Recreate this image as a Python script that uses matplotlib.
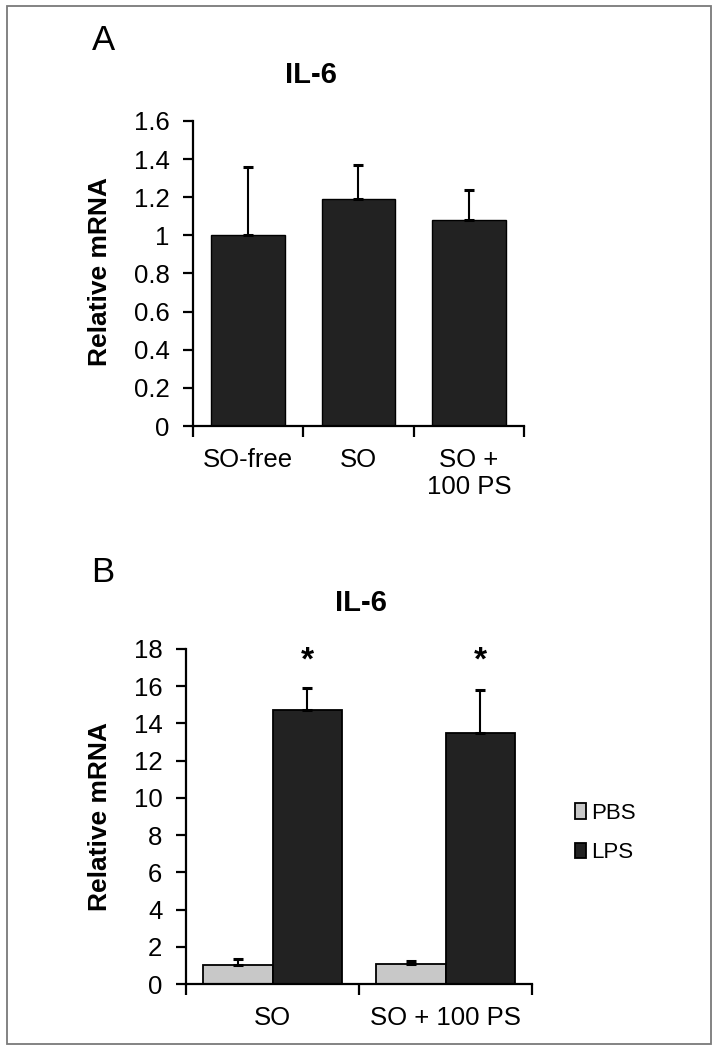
import matplotlib
matplotlib.use("Agg")
import matplotlib.pyplot as plt
import matplotlib.patches as mpatches
import numpy as np

plt.rcParams['font.family'] = ['Liberation Sans', 'DejaVu Sans']

# ---- Data ----
a_categories = ["SO-free", "SO", "SO +\n100 PS"]
a_values = [1.00, 1.19, 1.08]
a_err = [0.36, 0.18, 0.16]
a_yticks = [0, 0.2, 0.4, 0.6, 0.8, 1, 1.2, 1.4, 1.6]
a_yticklabels = ["0", "0.2", "0.4", "0.6", "0.8", "1", "1.2", "1.4", "1.6"]

b_categories = ["SO", "SO + 100 PS"]
b_series = ["PBS", "LPS"]
b_pbs = [1.00, 1.09]
b_pbs_err = [0.36, 0.16]
b_lps = [14.70, 13.48]
b_lps_err = [1.22, 2.34]
b_sig = ["*", "*"]
b_yticks = [0, 2, 4, 6, 8, 10, 12, 14, 16, 18]

dark = "#222222"
light = "#c8c8c8"

fig = plt.figure(figsize=(7.15, 10.5), dpi=100)

# border
fig.patches.append(mpatches.Rectangle((7/715, 6/1050), 704/715, 1038/1050,
                                      transform=fig.transFigure, fill=False,
                                      edgecolor="#7a7a7a", linewidth=1.3))

def style_axes(ax):
    for s in ["top", "right"]:
        ax.spines[s].set_visible(False)
    for s in ["left", "bottom"]:
        ax.spines[s].set_linewidth(1.6)
        ax.spines[s].set_color("black")
    ax.tick_params(axis="y", direction="out", length=7, width=1.6, pad=10,
                   labelsize=18.5)
    ax.tick_params(axis="x", which="major", direction="out", length=8, width=1.6,
                   labelbottom=False)
    ax.tick_params(axis="x", which="minor", length=0, pad=16, labelsize=18.5)

ekw = dict(ecolor="black", elinewidth=1.5, capsize=3.3, capthick=2.2)

# ---- Panel A ----
axA = fig.add_axes([193/715, 1-426/1050, 331/715, 305/1050])
xa = np.arange(len(a_categories))
axA.bar(xa, a_values, width=0.67, color=dark, edgecolor="black", linewidth=1.0,
        zorder=2)
axA.errorbar(xa, a_values, yerr=[np.zeros(len(a_err)), a_err], fmt="none",
             zorder=3, **ekw)
axA.set_xlim(-0.5, len(a_categories) - 0.5)
axA.set_ylim(0, 1.6)
axA.set_yticks(a_yticks)
axA.set_yticklabels(a_yticklabels)
axA.set_xticks(np.arange(len(a_categories) + 1) - 0.5)
axA.set_xticks(xa, minor=True)
axA.set_xticklabels(a_categories, minor=True, linespacing=1.15)
style_axes(axA)
axA.set_ylabel("Relative mRNA", fontsize=19, fontweight="bold")
axA.yaxis.set_label_coords(-0.245, 0.505)

fig.text(103/715, 1-40/1050, "A", fontsize=25, ha="center", va="center")
fig.text(311/715, 1-75/1050, "IL-6", fontsize=21, fontweight="bold",
         ha="center", va="center")

# ---- Panel B ----
axB = fig.add_axes([186/715, 1-984/1050, 346/715, 335/1050])
xb = np.arange(len(b_categories))
w = 0.4
axB.bar(xb - w/2, b_pbs, width=w, color=light, edgecolor="black", linewidth=1.3,
        label=b_series[0], zorder=2)
axB.bar(xb + w/2, b_lps, width=w, color=dark, edgecolor="black", linewidth=1.3,
        label=b_series[1], zorder=2)
axB.errorbar(xb - w/2, b_pbs, yerr=[np.zeros(len(b_pbs_err)), b_pbs_err],
             fmt="none", zorder=3, **ekw)
axB.errorbar(xb + w/2, b_lps, yerr=[np.zeros(len(b_lps_err)), b_lps_err],
             fmt="none", zorder=3, **ekw)
for xi, s in zip(xb + w/2, b_sig):
    axB.text(xi, 17.35, s, fontsize=24, fontweight="bold", ha="center",
             va="center")
axB.set_xlim(-0.5, len(b_categories) - 0.5)
axB.set_ylim(0, 18)
axB.set_yticks(b_yticks)
axB.set_xticks(np.arange(len(b_categories) + 1) - 0.5)
axB.set_xticks(xb, minor=True)
axB.set_xticklabels(b_categories, minor=True)
style_axes(axB)
axB.set_ylabel("Relative mRNA", fontsize=19, fontweight="bold")
axB.yaxis.set_label_coords(-0.214, 0.50)

fig.legend(loc="center left", bbox_to_anchor=(564/715, 1-833/1050),
           frameon=False, fontsize=16, handlelength=0.5, handleheight=0.7,
           handletextpad=0.2, labelspacing=0.85, borderpad=0)

fig.text(103/715, 1-573/1050, "B", fontsize=25, ha="center", va="center")
fig.text(361/715, 1-603/1050, "IL-6", fontsize=21, fontweight="bold",
         ha="center", va="center")

fig.savefig("out.png", dpi=100)
